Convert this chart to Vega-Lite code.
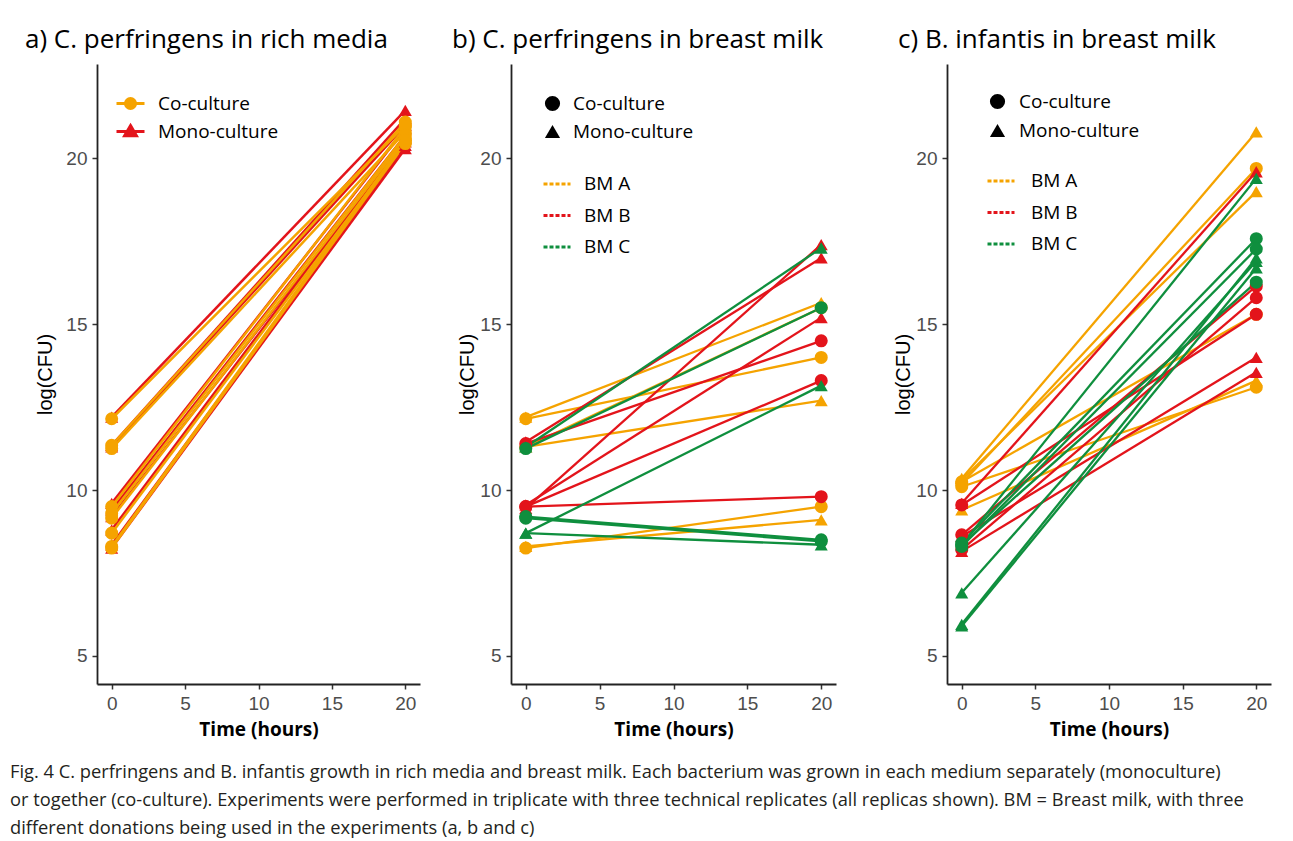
{
  "$schema": "https://vega.github.io/schema/vega-lite/v6.json",
  "background": "white",
  "padding": {"left": 10, "top": 27, "right": 5, "bottom": 5},
  "spacing": 32,
  "resolve": {
    "scale": {"stroke": "independent", "fill": "independent", "shape": "independent"},
    "legend": {"stroke": "independent", "fill": "independent", "shape": "independent"}
  },
  "config": {
    "view": {"stroke": null},
    "axis": {
      "grid": false,
      "domainColor": "#222222",
      "domainWidth": 1.8,
      "tickColor": "#333333",
      "tickWidth": 1.5,
      "tickSize": 5,
      "labelColor": "#4d4d4d",
      "labelFont": "Liberation Sans",
      "labelFontSize": 19,
      "labelPadding": 5,
      "titleColor": "black"
    },
    "legend": {
      "labelFont": "Open Sans",
      "labelFontSize": 19,
      "labelColor": "black",
      "symbolOpacity": 1
    },
    "title": {"font": "Open Sans", "fontSize": 26, "fontWeight": "normal", "color": "black", "anchor": "start", "frame": "group"}
  },
  "title": {
    "text": [
      "Fig. 4 C. perfringens and B. infantis growth in rich media and breast milk. Each bacterium was grown in each medium separately (monoculture)",
      "or together (co-culture). Experiments were performed in triplicate with three technical replicates (all replicas shown). BM = Breast milk, with three",
      "different donations being used in the experiments (a, b and c)"
    ],
    "orient": "bottom",
    "anchor": "start",
    "frame": "bounds",
    "font": "Open Sans",
    "fontSize": 18.3,
    "fontWeight": "normal",
    "lineHeight": 28,
    "color": "#231f20",
    "offset": 25,
    "dx": -15
  },
  "datasets": {
    "a": [
      {"t": 0, "cfu": 12.2, "culture": "Mono-culture", "rep": "m1"}, {"t": 20, "cfu": 21.45, "culture": "Mono-culture", "rep": "m1"},
      {"t": 0, "cfu": 11.35, "culture": "Mono-culture", "rep": "m2"}, {"t": 20, "cfu": 21.2, "culture": "Mono-culture", "rep": "m2"},
      {"t": 0, "cfu": 11.3, "culture": "Mono-culture", "rep": "m3"}, {"t": 20, "cfu": 21.0, "culture": "Mono-culture", "rep": "m3"},
      {"t": 0, "cfu": 9.6, "culture": "Mono-culture", "rep": "m4"}, {"t": 20, "cfu": 20.9, "culture": "Mono-culture", "rep": "m4"},
      {"t": 0, "cfu": 9.4, "culture": "Mono-culture", "rep": "m5"}, {"t": 20, "cfu": 20.7, "culture": "Mono-culture", "rep": "m5"},
      {"t": 0, "cfu": 9.2, "culture": "Mono-culture", "rep": "m6"}, {"t": 20, "cfu": 20.5, "culture": "Mono-culture", "rep": "m6"},
      {"t": 0, "cfu": 8.8, "culture": "Mono-culture", "rep": "m7"}, {"t": 20, "cfu": 20.6, "culture": "Mono-culture", "rep": "m7"},
      {"t": 0, "cfu": 8.35, "culture": "Mono-culture", "rep": "m8"}, {"t": 20, "cfu": 20.4, "culture": "Mono-culture", "rep": "m8"},
      {"t": 0, "cfu": 8.25, "culture": "Mono-culture", "rep": "m9"}, {"t": 20, "cfu": 20.3, "culture": "Mono-culture", "rep": "m9"},
      {"t": 0, "cfu": 12.15, "culture": "Co-culture", "rep": "c1"}, {"t": 20, "cfu": 21.0, "culture": "Co-culture", "rep": "c1"},
      {"t": 0, "cfu": 11.35, "culture": "Co-culture", "rep": "c2"}, {"t": 20, "cfu": 21.1, "culture": "Co-culture", "rep": "c2"},
      {"t": 0, "cfu": 11.25, "culture": "Co-culture", "rep": "c3"}, {"t": 20, "cfu": 20.8, "culture": "Co-culture", "rep": "c3"},
      {"t": 0, "cfu": 9.5, "culture": "Co-culture", "rep": "c4"}, {"t": 20, "cfu": 20.95, "culture": "Co-culture", "rep": "c4"},
      {"t": 0, "cfu": 9.3, "culture": "Co-culture", "rep": "c5"}, {"t": 20, "cfu": 20.7, "culture": "Co-culture", "rep": "c5"},
      {"t": 0, "cfu": 9.15, "culture": "Co-culture", "rep": "c6"}, {"t": 20, "cfu": 20.6, "culture": "Co-culture", "rep": "c6"},
      {"t": 0, "cfu": 8.7, "culture": "Co-culture", "rep": "c7"}, {"t": 20, "cfu": 20.5, "culture": "Co-culture", "rep": "c7"},
      {"t": 0, "cfu": 8.3, "culture": "Co-culture", "rep": "c8"}, {"t": 20, "cfu": 20.55, "culture": "Co-culture", "rep": "c8"},
      {"t": 0, "cfu": 8.25, "culture": "Co-culture", "rep": "c9"}, {"t": 20, "cfu": 20.45, "culture": "Co-culture", "rep": "c9"}
    ],
    "b": [
      {"t": 0, "cfu": 12.15, "bm": "BM A", "culture": "Co-culture", "rep": "A1"}, {"t": 20, "cfu": 14.0, "bm": "BM A", "culture": "Co-culture", "rep": "A1"},
      {"t": 0, "cfu": 11.3, "bm": "BM A", "culture": "Co-culture", "rep": "A2"}, {"t": 20, "cfu": 15.5, "bm": "BM A", "culture": "Co-culture", "rep": "A2"},
      {"t": 0, "cfu": 8.25, "bm": "BM A", "culture": "Co-culture", "rep": "A3"}, {"t": 20, "cfu": 9.5, "bm": "BM A", "culture": "Co-culture", "rep": "A3"},
      {"t": 0, "cfu": 12.2, "bm": "BM A", "culture": "Mono-culture", "rep": "A4"}, {"t": 20, "cfu": 15.65, "bm": "BM A", "culture": "Mono-culture", "rep": "A4"},
      {"t": 0, "cfu": 11.3, "bm": "BM A", "culture": "Mono-culture", "rep": "A5"}, {"t": 20, "cfu": 12.7, "bm": "BM A", "culture": "Mono-culture", "rep": "A5"},
      {"t": 0, "cfu": 8.3, "bm": "BM A", "culture": "Mono-culture", "rep": "A6"}, {"t": 20, "cfu": 9.1, "bm": "BM A", "culture": "Mono-culture", "rep": "A6"},
      {"t": 0, "cfu": 11.4, "bm": "BM B", "culture": "Co-culture", "rep": "B1"}, {"t": 20, "cfu": 14.5, "bm": "BM B", "culture": "Co-culture", "rep": "B1"},
      {"t": 0, "cfu": 9.5, "bm": "BM B", "culture": "Co-culture", "rep": "B2"}, {"t": 20, "cfu": 13.3, "bm": "BM B", "culture": "Co-culture", "rep": "B2"},
      {"t": 0, "cfu": 9.5, "bm": "BM B", "culture": "Co-culture", "rep": "B3"}, {"t": 20, "cfu": 9.8, "bm": "BM B", "culture": "Co-culture", "rep": "B3"},
      {"t": 0, "cfu": 11.45, "bm": "BM B", "culture": "Mono-culture", "rep": "B4"}, {"t": 20, "cfu": 17.0, "bm": "BM B", "culture": "Mono-culture", "rep": "B4"},
      {"t": 0, "cfu": 9.45, "bm": "BM B", "culture": "Mono-culture", "rep": "B5"}, {"t": 20, "cfu": 17.4, "bm": "BM B", "culture": "Mono-culture", "rep": "B5"},
      {"t": 0, "cfu": 9.55, "bm": "BM B", "culture": "Mono-culture", "rep": "B6"}, {"t": 20, "cfu": 15.2, "bm": "BM B", "culture": "Mono-culture", "rep": "B6"},
      {"t": 0, "cfu": 11.25, "bm": "BM C", "culture": "Co-culture", "rep": "C1"}, {"t": 20, "cfu": 15.5, "bm": "BM C", "culture": "Co-culture", "rep": "C1"},
      {"t": 0, "cfu": 9.2, "bm": "BM C", "culture": "Co-culture", "rep": "C2"}, {"t": 20, "cfu": 8.5, "bm": "BM C", "culture": "Co-culture", "rep": "C2"},
      {"t": 0, "cfu": 9.15, "bm": "BM C", "culture": "Co-culture", "rep": "C3"}, {"t": 20, "cfu": 8.45, "bm": "BM C", "culture": "Co-culture", "rep": "C3"},
      {"t": 0, "cfu": 11.3, "bm": "BM C", "culture": "Mono-culture", "rep": "C4"}, {"t": 20, "cfu": 17.3, "bm": "BM C", "culture": "Mono-culture", "rep": "C4"},
      {"t": 0, "cfu": 8.7, "bm": "BM C", "culture": "Mono-culture", "rep": "C5"}, {"t": 20, "cfu": 13.15, "bm": "BM C", "culture": "Mono-culture", "rep": "C5"},
      {"t": 0, "cfu": 8.7, "bm": "BM C", "culture": "Mono-culture", "rep": "C6"}, {"t": 20, "cfu": 8.35, "bm": "BM C", "culture": "Mono-culture", "rep": "C6"}
    ],
    "c": [
      {"t": 0, "cfu": 10.35, "bm": "BM A", "culture": "Mono-culture", "rep": "A1"}, {"t": 20, "cfu": 20.8, "bm": "BM A", "culture": "Mono-culture", "rep": "A1"},
      {"t": 0, "cfu": 10.2, "bm": "BM A", "culture": "Co-culture", "rep": "A2"}, {"t": 20, "cfu": 19.7, "bm": "BM A", "culture": "Co-culture", "rep": "A2"},
      {"t": 0, "cfu": 10.3, "bm": "BM A", "culture": "Mono-culture", "rep": "A3"}, {"t": 20, "cfu": 19.0, "bm": "BM A", "culture": "Mono-culture", "rep": "A3"},
      {"t": 0, "cfu": 10.25, "bm": "BM A", "culture": "Co-culture", "rep": "A4"}, {"t": 20, "cfu": 15.3, "bm": "BM A", "culture": "Co-culture", "rep": "A4"},
      {"t": 0, "cfu": 9.4, "bm": "BM A", "culture": "Mono-culture", "rep": "A5"}, {"t": 20, "cfu": 13.3, "bm": "BM A", "culture": "Mono-culture", "rep": "A5"},
      {"t": 0, "cfu": 10.1, "bm": "BM A", "culture": "Co-culture", "rep": "A6"}, {"t": 20, "cfu": 13.1, "bm": "BM A", "culture": "Co-culture", "rep": "A6"},
      {"t": 0, "cfu": 9.6, "bm": "BM B", "culture": "Mono-culture", "rep": "B1"}, {"t": 20, "cfu": 19.6, "bm": "BM B", "culture": "Mono-culture", "rep": "B1"},
      {"t": 0, "cfu": 9.55, "bm": "BM B", "culture": "Co-culture", "rep": "B2"}, {"t": 20, "cfu": 15.3, "bm": "BM B", "culture": "Co-culture", "rep": "B2"},
      {"t": 0, "cfu": 8.65, "bm": "BM B", "culture": "Co-culture", "rep": "B3"}, {"t": 20, "cfu": 16.15, "bm": "BM B", "culture": "Co-culture", "rep": "B3"},
      {"t": 0, "cfu": 8.2, "bm": "BM B", "culture": "Co-culture", "rep": "B4"}, {"t": 20, "cfu": 15.8, "bm": "BM B", "culture": "Co-culture", "rep": "B4"},
      {"t": 0, "cfu": 8.6, "bm": "BM B", "culture": "Mono-culture", "rep": "B5"}, {"t": 20, "cfu": 14.0, "bm": "BM B", "culture": "Mono-culture", "rep": "B5"},
      {"t": 0, "cfu": 8.15, "bm": "BM B", "culture": "Mono-culture", "rep": "B6"}, {"t": 20, "cfu": 13.55, "bm": "BM B", "culture": "Mono-culture", "rep": "B6"},
      {"t": 0, "cfu": 8.35, "bm": "BM C", "culture": "Mono-culture", "rep": "C1"}, {"t": 20, "cfu": 19.4, "bm": "BM C", "culture": "Mono-culture", "rep": "C1"},
      {"t": 0, "cfu": 8.4, "bm": "BM C", "culture": "Co-culture", "rep": "C2"}, {"t": 20, "cfu": 17.58, "bm": "BM C", "culture": "Co-culture", "rep": "C2"},
      {"t": 0, "cfu": 8.3, "bm": "BM C", "culture": "Co-culture", "rep": "C3"}, {"t": 20, "cfu": 17.27, "bm": "BM C", "culture": "Co-culture", "rep": "C3"},
      {"t": 0, "cfu": 8.35, "bm": "BM C", "culture": "Co-culture", "rep": "C4"}, {"t": 20, "cfu": 16.27, "bm": "BM C", "culture": "Co-culture", "rep": "C4"},
      {"t": 0, "cfu": 6.9, "bm": "BM C", "culture": "Mono-culture", "rep": "C5"}, {"t": 20, "cfu": 16.9, "bm": "BM C", "culture": "Mono-culture", "rep": "C5"},
      {"t": 0, "cfu": 5.95, "bm": "BM C", "culture": "Mono-culture", "rep": "C6"}, {"t": 20, "cfu": 17.0, "bm": "BM C", "culture": "Mono-culture", "rep": "C6"},
      {"t": 0, "cfu": 5.9, "bm": "BM C", "culture": "Mono-culture", "rep": "C7"}, {"t": 20, "cfu": 16.7, "bm": "BM C", "culture": "Mono-culture", "rep": "C7"}
    ]
  },
  "hconcat": [
    {
      "width": 323,
      "height": 620,
      "title": {"text": "a) C. perfringens in rich media", "dx": -72, "offset": 11},
      "data": {"name": "a"},
      "encoding": {
        "x": {"field": "t", "type": "quantitative", "scale": {"domain": [-1, 21], "nice": false, "zero": false},
              "axis": {"values": [0, 5, 10, 15, 20], "title": "Time (hours)", "titleFont": "Open Sans", "titleFontWeight": "bold", "titleFontSize": 19, "titlePadding": 7}},
        "y": {"field": "cfu", "type": "quantitative", "scale": {"domain": [4.15, 22.85], "nice": false, "zero": false},
              "axis": {"values": [5, 10, 15, 20], "title": "log(CFU)", "titleFont": "Liberation Sans", "titleFontWeight": "normal", "titleFontSize": 20, "titleX": -42}}
      },
      "layer": [
        {
          "mark": {"type": "line", "strokeWidth": 2.5},
          "encoding": {
            "detail": {"field": "rep"},
            "stroke": {"field": "culture", "type": "nominal",
              "scale": {"domain": ["Co-culture", "Mono-culture"], "range": ["#F5A300", "#E3141B"]},
              "legend": {
                "orient": "none", "legendX": 18, "legendY": 24, "title": null,
                "symbolSize": 784, "symbolStrokeWidth": 3, "labelOffset": 12, "rowPadding": 1,
                "encode": {"symbols": {"update": {
                  "shape": {"signal": "datum.value === 'Co-culture' ? 'M-1,0L1,0M-0.36,0A0.36,0.36 0 1,0 0.36,0A0.36,0.36 0 1,0 -0.36,0Z' : 'M-1,0L1,0M0,-0.42L0.42,0.3L-0.42,0.3Z'"},
                  "fill": {"signal": "datum.value === 'Co-culture' ? '#F5A300' : '#E3141B'"},
                  "stroke": {"signal": "datum.value === 'Co-culture' ? '#F5A300' : '#E3141B'"},
                  "fillOpacity": {"value": 1},
                  "strokeWidth": {"value": 3},
                  "strokeDash": {"value": []}
                }}}
              }
            }
          }
        },
        {
          "mark": {"type": "point", "filled": true, "size": 170, "opacity": 1},
          "encoding": {
            "fill": {"field": "culture", "type": "nominal", "scale": {"range": ["#F5A300", "#E3141B"]}, "legend": null},
            "shape": {"field": "culture", "type": "nominal", "scale": {"range": ["circle", "triangle-up"]}, "legend": null}
          }
        }
      ]
    },
    {
      "width": 325,
      "height": 620,
      "title": {"text": "b) C. perfringens in breast milk", "dx": -59, "offset": 11},
      "data": {"name": "b"},
      "encoding": {
        "x": {"field": "t", "type": "quantitative", "scale": {"domain": [-1, 21], "nice": false, "zero": false},
              "axis": {"values": [0, 5, 10, 15, 20], "title": "Time (hours)", "titleFont": "Open Sans", "titleFontWeight": "bold", "titleFontSize": 19, "titlePadding": 7}},
        "y": {"field": "cfu", "type": "quantitative", "scale": {"domain": [4.15, 22.85], "nice": false, "zero": false},
              "axis": {"values": [5, 10, 15, 20], "title": "log(CFU)", "titleFont": "Liberation Sans", "titleFontWeight": "normal", "titleFontSize": 20, "titleX": -34}}
      },
      "layer": [
        {
          "mark": {"type": "line", "strokeWidth": 2.3},
          "encoding": {
            "detail": {"field": "rep"},
            "stroke": {"field": "bm", "type": "nominal",
              "scale": {"domain": ["BM A", "BM B", "BM C"], "range": ["#F5A300", "#E3141B", "#0F8F3E"]},
              "legend": {"orient": "none", "legendX": 31, "legendY": 105, "title": null, "symbolType": "stroke", "symbolSize": 729, "symbolStrokeWidth": 3, "symbolDash": [4, 2], "labelOffset": 12, "rowPadding": 6.5}
            }
          }
        },
        {
          "mark": {"type": "point", "filled": true, "size": 170, "opacity": 1},
          "encoding": {
            "fill": {"field": "bm", "type": "nominal", "scale": {"domain": ["BM A", "BM B", "BM C"], "range": ["#F5A300", "#E3141B", "#0F8F3E"]}, "legend": null},
            "shape": {"field": "culture", "type": "nominal", "scale": {"domain": ["Co-culture", "Mono-culture"], "range": ["circle", "triangle-up"]},
              "legend": {"orient": "none", "legendX": 32, "legendY": 30, "title": null, "symbolSize": 230, "labelOffset": 11, "rowPadding": 6,
                "encode": {"symbols": {"update": {"fill": {"value": "black"}, "fillOpacity": {"value": 1}, "stroke": {"value": "black"}, "strokeWidth": {"value": 0}}}}}
            }
          }
        }
      ]
    },
    {
      "width": 324,
      "height": 620,
      "title": {"text": "c) B. infantis in breast milk", "dx": -49, "offset": 11},
      "data": {"name": "c"},
      "encoding": {
        "x": {"field": "t", "type": "quantitative", "scale": {"domain": [-1, 21], "nice": false, "zero": false},
              "axis": {"values": [0, 5, 10, 15, 20], "title": "Time (hours)", "titleFont": "Open Sans", "titleFontWeight": "bold", "titleFontSize": 19, "titlePadding": 7}},
        "y": {"field": "cfu", "type": "quantitative", "scale": {"domain": [4.15, 22.85], "nice": false, "zero": false},
              "axis": {"values": [5, 10, 15, 20], "title": "log(CFU)", "titleFont": "Liberation Sans", "titleFontWeight": "normal", "titleFontSize": 20, "titleX": -34, "minExtent": 79}}
      },
      "layer": [
        {
          "mark": {"type": "line", "strokeWidth": 2.3},
          "encoding": {
            "detail": {"field": "rep"},
            "stroke": {"field": "bm", "type": "nominal",
              "scale": {"domain": ["BM A", "BM B", "BM C"], "range": ["#F5A300", "#E3141B", "#0F8F3E"]},
              "legend": {"orient": "none", "legendX": 39, "legendY": 102, "title": null, "symbolType": "stroke", "symbolSize": 729, "symbolStrokeWidth": 3, "symbolDash": [4, 2], "labelOffset": 15, "rowPadding": 6.5}
            }
          }
        },
        {
          "mark": {"type": "point", "filled": true, "size": 170, "opacity": 1},
          "encoding": {
            "fill": {"field": "bm", "type": "nominal", "scale": {"domain": ["BM A", "BM B", "BM C"], "range": ["#F5A300", "#E3141B", "#0F8F3E"]}, "legend": null},
            "shape": {"field": "culture", "type": "nominal", "scale": {"domain": ["Co-culture", "Mono-culture"], "range": ["circle", "triangle-up"]},
              "legend": {"orient": "none", "legendX": 41, "legendY": 28, "title": null, "symbolSize": 230, "labelOffset": 12, "rowPadding": 7,
                "encode": {"symbols": {"update": {"fill": {"value": "black"}, "fillOpacity": {"value": 1}, "stroke": {"value": "black"}, "strokeWidth": {"value": 0}}}}}
            }
          }
        }
      ]
    }
  ]
}
